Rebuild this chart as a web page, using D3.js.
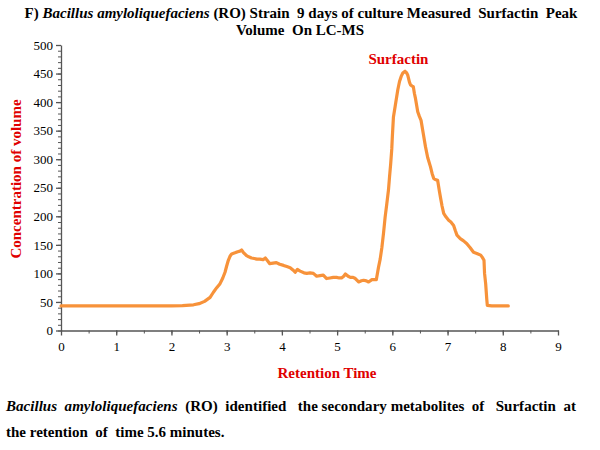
<!DOCTYPE html>
<html>
<head>
<meta charset="utf-8">
<script src="https://cdn.jsdelivr.net/npm/d3@7"></script>
<style>
  body { margin: 0; background: #fff; }
  svg { display: block; font-family: "Liberation Serif", "Times New Roman", serif; }
  text { white-space: pre; }
  .tick text { font-family: "Liberation Serif", serif; }
</style>
</head>
<body>
<div id="chart"></div>
<script>
// ---- data ----
const retentionTime = [0, 0.5, 1.0, 1.5, 2.0, 2.2, 2.4, 2.5, 2.6, 2.7, 2.76, 2.82, 2.88, 2.93, 2.97, 3.0, 3.03, 3.06, 3.09, 3.15, 3.2, 3.24, 3.27, 3.3, 3.36, 3.4, 3.45, 3.5, 3.55, 3.6, 3.66, 3.7, 3.74, 3.78, 3.84, 3.9, 3.96, 4.03, 4.09, 4.15, 4.2, 4.24, 4.28, 4.33, 4.4, 4.45, 4.51, 4.57, 4.63, 4.69, 4.75, 4.81, 4.87, 4.93, 4.99, 5.04, 5.08, 5.12, 5.15, 5.2, 5.24, 5.29, 5.33, 5.39, 5.44, 5.48, 5.53, 5.57, 5.63, 5.67, 5.71, 5.75, 5.78, 5.81, 5.84, 5.87, 5.9, 5.93, 5.95, 5.97, 5.99, 6.0, 6.02, 6.05, 6.07, 6.1, 6.13, 6.16, 6.19, 6.23, 6.26, 6.28, 6.31, 6.33, 6.36, 6.38, 6.4, 6.42, 6.46, 6.49, 6.52, 6.56, 6.6, 6.64, 6.69, 6.72, 6.75, 6.79, 6.82, 6.85, 6.87, 6.9, 6.93, 6.97, 7.02, 7.06, 7.11, 7.14, 7.17, 7.2, 7.23, 7.29, 7.35, 7.41, 7.47, 7.53, 7.6, 7.63, 7.66, 7.67, 7.69, 7.71, 7.72, 7.8, 8.0, 8.1];
const concentration = [43, 43, 43, 43, 43, 43.5, 45, 47, 51, 58, 67, 75, 82, 92, 102, 113, 123, 130, 134, 136, 138, 139, 141, 137, 131, 129, 127, 126, 125, 125, 124, 127, 122, 117, 118, 119, 116, 114, 112, 110, 106, 102, 107, 104, 101, 100, 101, 100, 95, 96, 97, 91, 92, 93, 93, 92, 92, 95, 99, 95, 93, 93, 91, 85, 87, 88, 87, 85, 89, 89, 89, 111, 125, 145, 170, 199, 222, 246, 270, 292, 318, 339, 374, 392, 404, 422, 436, 445, 451, 454, 451, 447, 435, 430, 428, 427, 415, 406, 383, 375, 368, 345, 322, 303, 287, 275, 266, 264, 263, 245, 234, 218, 205, 199, 193, 190, 184, 175, 167, 164, 161, 157, 152, 145, 137, 135, 132, 128, 123, 100, 82, 55, 44, 43, 43, 43];
const xTicks = [0, 1, 2, 3, 4, 5, 6, 7, 8, 9];
const yTicks = [0, 50, 100, 150, 200, 250, 300, 350, 400, 450, 500];
const xDomain = [0, 9];
const yDomain = [0, 500];
const peakLabel = { text: "Surfactin", x: 6.11, y: 467 };

const W = 600, H = 450;
const svg = d3.select("#chart").append("svg").attr("width", W).attr("height", H);

const x = d3.scaleLinear().domain(xDomain).range([61, 558]);
const y = d3.scaleLinear().domain(yDomain).range([330.5, 45]);

const axisColor = "#555";
const FS = 15;
const SERIF = "Liberation Serif, serif";

// title
const t1 = svg.append("text").attr("x", 301).attr("y", 18).attr("text-anchor", "middle")
  .attr("font-size", FS).attr("font-weight", "bold").attr("fill", "#000");
t1.append("tspan").text("F) ");
t1.append("tspan").attr("font-style", "italic").text("Bacillus amyloliquefaciens");
t1.append("tspan").text(" (RO) Strain  9 days of culture Measured  Surfactin  Peak");
svg.append("text").attr("x", 300).attr("y", 35).attr("text-anchor", "middle")
  .attr("font-size", FS).attr("font-weight", "bold").attr("fill", "#000")
  .text("Volume  On LC-MS");

// axes
const gx = svg.append("g").attr("transform", `translate(0,${y(0)})`);
gx.call(d3.axisBottom(x).tickValues(d3.range(0, 9.01, 0.5)).tickSize(3).tickFormat(""));
gx.selectAll(".tick line").attr("stroke", axisColor);
gx.select(".domain").remove();
const gx2 = svg.append("g").attr("transform", `translate(0,${y(0)})`);
gx2.call(d3.axisBottom(x).tickValues(xTicks).tickSize(5).tickSizeOuter(0).tickPadding(6).tickFormat(d3.format("d")));
gx2.attr("font-family", SERIF).attr("font-size", 13);
gx2.selectAll(".domain, .tick line").attr("stroke", axisColor).attr("stroke-width", 1.3);
gx2.selectAll(".tick text").attr("fill", "#000");

const gy = svg.append("g").attr("transform", `translate(${x(0)},0)`);
gy.call(d3.axisLeft(y).tickValues(d3.range(0, 501, 10)).tickSize(3).tickFormat(""));
gy.selectAll(".tick line").attr("stroke", axisColor);
gy.select(".domain").remove();
const gy2 = svg.append("g").attr("transform", `translate(${x(0)},0)`);
gy2.call(d3.axisLeft(y).tickValues(yTicks).tickSize(5).tickSizeOuter(0).tickPadding(3).tickFormat(d3.format("d")));
gy2.attr("font-family", SERIF).attr("font-size", 13);
gy2.selectAll(".domain, .tick line").attr("stroke", axisColor).attr("stroke-width", 1.3);
gy2.selectAll(".tick text").attr("fill", "#000");

// line
const data = retentionTime.map((t, i) => ({ t, v: concentration[i] }));
svg.append("path").datum(data)
  .attr("fill", "none").attr("stroke", "#F7923A").attr("stroke-width", 3.2)
  .attr("stroke-linejoin", "round").attr("stroke-linecap", "round")
  .attr("d", d3.line().x(d => x(d.t)).y(d => y(d.v)));

// peak label
svg.append("text").attr("x", x(peakLabel.x)).attr("y", y(peakLabel.y))
  .attr("text-anchor", "middle").attr("font-size", FS).attr("font-weight", "bold")
  .attr("fill", "#e00000").text(peakLabel.text);

// axis titles
svg.append("text").attr("x", 327).attr("y", 378).attr("text-anchor", "middle")
  .attr("font-size", FS).attr("font-weight", "bold").attr("fill", "#e00000")
  .text("Retention Time");
svg.append("text").attr("transform", `translate(21,179) rotate(-90)`).attr("text-anchor", "middle")
  .attr("font-size", FS).attr("font-weight", "bold").attr("fill", "#e00000")
  .text("Concentration of volume");

// caption
const c1 = svg.append("text").attr("x", 6).attr("y", 411).attr("font-size", FS)
  .attr("font-weight", "bold").attr("fill", "#000")
  .attr("textLength", 570).attr("lengthAdjust", "spacing");
c1.append("tspan").attr("font-style", "italic").text("Bacillus  amyloliquefaciens");
c1.append("tspan").text("  (RO)  identified   the secondary metabolites  of   Surfactin  at");
svg.append("text").attr("x", 6).attr("y", 437).attr("font-size", FS)
  .attr("font-weight", "bold").attr("fill", "#000")
  .text("the retention  of  time 5.6 minutes.");
</script>
</body>
</html>
